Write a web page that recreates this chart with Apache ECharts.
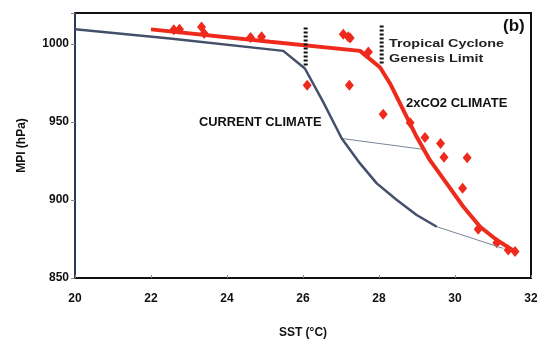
<!DOCTYPE html>
<html><head><meta charset="utf-8">
<script src="https://cdn.jsdelivr.net/npm/echarts@6/dist/echarts.min.js"></script>
<style>html,body{margin:0;padding:0;background:#fff}#c{width:551px;height:345px}</style>
</head><body><div id="c"></div>
<script>
const xTicks = [20, 22, 24, 26, 28, 30, 32];
const yTicks = [850, 900, 950, 1000];
const currentClimate = [[20.0,1009.5],[22.5,1003.6],[25.48,995.7],[26.05,984.4],[26.53,963],[27.02,939.5],[27.5,923.5],[27.94,910.7],[28.47,900],[28.99,890.4],[29.52,882.9]];
const co2Climate = [[22.0,1009.5],[25.13,1001.5],[27.5,995.7],[28.03,985],[28.29,974.8],[28.64,957.7],[28.99,940.6],[29.34,925.6],[29.78,910.7],[30.22,895.7],[30.66,882.9],[31.1,874.4],[31.58,866.9]];
const co2Points = [[22.6,1009.3],[22.75,1009.6],[23.33,1011],[23.4,1006.8],[24.62,1004.3],[24.91,1004.7],[27.06,1006.4],[27.19,1004.7],[27.24,1004],[27.72,995],[26.11,973.7],[27.22,973.7],[28.11,955.1],[28.82,949.6],[29.21,940.2],[29.62,936.3],[29.71,927.4],[30.32,927.1],[30.2,907.5],[30.61,881.2],[31.1,872.6],[31.4,868],[31.58,867]];
const link1 = [[27.02,939.5],[29.17,932.5]];
const link2 = [[29.52,882.9],[31.27,869]];
const genesisCurrent = [[26.07,1010.7],[26.07,985.5]];
const genesisCO2 = [[28.07,1012],[28.07,987]];

const FONT = 'Liberation Sans';
const chart = echarts.init(document.getElementById('c'), null, {renderer:'canvas'});
chart.setOption({
  animation:false,
  grid:{left:75,right:20,top:13,bottom:67,show:true,borderColor:'#111',borderWidth:2},
  xAxis:{type:'value',min:20,max:32,interval:2,
    axisLine:{show:true,onZero:false,lineStyle:{color:'#111',width:2}},
    axisTick:{show:true,inside:true,length:3,lineStyle:{color:'#888'}},
    splitLine:{show:false},
    axisLabel:{margin:15,color:'#111',fontFamily:FONT,fontWeight:'bold',fontSize:12},
    name:'SST (°C)',nameLocation:'middle',nameGap:49,
    nameTextStyle:{color:'#111',fontFamily:FONT,fontWeight:'bold',fontSize:12}},
  yAxis:{type:'value',min:850,max:1020,interval:50,
    axisLine:{show:true,lineStyle:{color:'#2c3a55',width:2}},
    axisTick:{show:true,length:4,lineStyle:{color:'#888'}},
    splitLine:{show:false},
    axisLabel:{margin:6,color:'#111',fontFamily:FONT,fontWeight:'bold',fontSize:12,
      formatter:v=>yTicks.includes(v)?String(v):''},
    name:'MPI (hPa)',nameLocation:'middle',nameGap:47,
    nameTextStyle:{color:'#111',fontFamily:FONT,fontWeight:'bold',fontSize:12}},
  series:[
    {type:'line',data:link1,symbol:'none',lineStyle:{color:'#7a8499',width:1}},
    {type:'line',data:link2,symbol:'none',lineStyle:{color:'#7a8499',width:1}},
    {type:'line',data:currentClimate,symbol:'none',lineStyle:{color:'#44506a',width:2.5}},
    {type:'line',data:co2Climate,symbol:'none',lineStyle:{color:'#ee2a1c',width:4}},
    {type:'scatter',data:co2Points,symbol:'diamond',symbolSize:[9,11],itemStyle:{color:'#ee2a1c',opacity:1}},
    {type:'line',data:genesisCurrent,symbol:'none',lineStyle:{color:'#111',width:4,type:[2,2]}},
    {type:'line',data:genesisCO2,symbol:'none',lineStyle:{color:'#111',width:4,type:[2,2]}}
  ],
  graphic:[
    {type:'text',x:503,y:18,style:{text:'(b)',font:'bold 17px '+FONT,fill:'#111'}},
    {type:'text',x:389,y:36,scaleX:1.25,style:{text:'Tropical Cyclone\nGenesis Limit',font:'bold 11.5px '+FONT,fill:'#222',lineHeight:15}},
    {type:'text',x:406,y:98,scaleX:1.08,style:{text:'2xCO2 CLIMATE',font:'bold 12px '+FONT,fill:'#111'}},
    {type:'text',x:199,y:117,scaleX:1.07,style:{text:'CURRENT CLIMATE',font:'bold 12px '+FONT,fill:'#111'}}
  ]
});
</script></body></html>
